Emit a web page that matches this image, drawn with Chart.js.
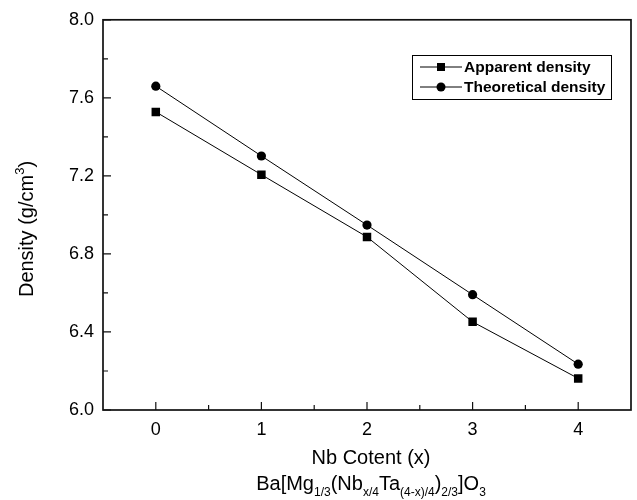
<!DOCTYPE html>
<html lang="en">
<head>
  <meta charset="utf-8">
  <title>Density vs Nb content</title>
  <script src="https://cdn.jsdelivr.net/npm/chart.js"></script>
  <style>
    html, body { margin: 0; padding: 0; background: #fff; }
    #wrap { width: 637px; height: 500px; }
  </style>
</head>
<body>
  <div id="wrap"><canvas id="densityChart"></canvas></div>
  <script>
    const nbContent = [0, 1, 2, 3, 4];
    const apparentDensity = [7.528, 7.206, 6.887, 6.452, 6.162];
    const theoreticalDensity = [7.660, 7.302, 6.948, 6.591, 6.235];
    const seriesLabels = ['Apparent density', 'Theoretical density'];
    const xMajor = [0, 1, 2, 3, 4];
    const xMinor = [0.5, 1.5, 2.5, 3.5];
    const yMajor = [6.0, 6.4, 6.8, 7.2, 7.6, 8.0];
    const yMinor = [6.2, 6.6, 7.0, 7.4, 7.8];

    const toPoints = (ys) => nbContent.map((x, i) => ({ x: x, y: ys[i] }));
    const FONT = 'Arial, "Liberation Sans", sans-serif';

    // frame, inward ticks, titles and legend
    const decor = {
      id: 'decor',
      afterDraw(chart) {
        const ctx = chart.ctx;
        const a = chart.chartArea;
        const xs = chart.scales.x, ys = chart.scales.y;
        ctx.save();
        ctx.strokeStyle = '#111';
        ctx.lineWidth = 1.7;
        ctx.strokeRect(a.left, a.top, a.right - a.left, a.bottom - a.top);

        ctx.lineWidth = 1.2;
        ctx.beginPath();
        yMajor.forEach(v => { const p = ys.getPixelForValue(v); ctx.moveTo(a.left, p); ctx.lineTo(a.left + 8, p); });
        yMinor.forEach(v => { const p = ys.getPixelForValue(v); ctx.moveTo(a.left, p); ctx.lineTo(a.left + 5, p); });
        xMajor.forEach(v => { const p = xs.getPixelForValue(v); ctx.moveTo(p, a.bottom); ctx.lineTo(p, a.bottom - 8); });
        xMinor.forEach(v => { const p = xs.getPixelForValue(v); ctx.moveTo(p, a.bottom); ctx.lineTo(p, a.bottom - 5); });
        ctx.stroke();

        // y title
        ctx.fillStyle = '#000';
        ctx.save();
        ctx.translate(33, 229);
        ctx.rotate(-Math.PI / 2);
        ctx.textBaseline = 'alphabetic';
        const t1 = 'Density (g/cm', t3 = ')';
        ctx.font = '13px ' + FONT;
        const wSup = ctx.measureText('3').width;
        ctx.font = '20px ' + FONT;
        const w1 = ctx.measureText(t1).width, w3 = ctx.measureText(t3).width;
        let sx = -(w1 + wSup + w3) / 2;
        ctx.fillText(t1, sx, 0); sx += w1;
        ctx.font = '13px ' + FONT;
        ctx.fillText('3', sx, -9); sx += wSup;
        ctx.font = '20px ' + FONT;
        ctx.fillText(t3, sx, 0);
        ctx.restore();

        // x title, two lines
        const cx = (a.left + a.right) / 2 + 4;
        ctx.textBaseline = 'alphabetic';
        ctx.textAlign = 'center';
        ctx.font = '20px ' + FONT;
        ctx.fillText('Nb Cotent (x)', cx, 464);
        ctx.textAlign = 'left';
        const parts = [['Ba[Mg', 0], ['1/3', 1], ['(Nb', 0], ['x/4', 1], ['Ta', 0], ['(4-x)/4', 1], [')', 0], ['2/3', 1], [']O', 0], ['3', 1]];
        const fMain = '20px ' + FONT, fSub = '12px ' + FONT;
        let total = 0;
        parts.forEach(p => { ctx.font = p[1] ? fSub : fMain; total += ctx.measureText(p[0]).width; });
        let px = cx - total / 2;
        parts.forEach(p => {
          ctx.font = p[1] ? fSub : fMain;
          ctx.fillText(p[0], px, p[1] ? 496 : 490);
          px += ctx.measureText(p[0]).width;
        });

        // legend
        ctx.lineWidth = 1;
        ctx.strokeStyle = '#000';
        ctx.strokeRect(412.5, 55.5, 199, 44);
        chart.data.datasets.forEach((ds, i) => {
          const ly = 67 + i * 20;
          ctx.beginPath();
          ctx.moveTo(420, ly); ctx.lineTo(462, ly);
          ctx.stroke();
          ctx.fillStyle = '#000';
          if (ds.pointStyle === 'rect') {
            ctx.fillRect(437, ly - 4, 8, 8);
          } else {
            ctx.beginPath(); ctx.arc(441, ly, 4.5, 0, Math.PI * 2); ctx.fill();
          }
          ctx.font = 'bold 15.5px ' + FONT;
          ctx.textBaseline = 'middle';
          ctx.fillText(ds.label, 464, ly + 1);
        });
        ctx.restore();
      }
    };

    new Chart(document.getElementById('densityChart'), {
      type: 'scatter',
      data: {
        datasets: [
          {
            label: seriesLabels[0], data: toPoints(apparentDensity), showLine: true,
            borderColor: '#000', borderWidth: 1, backgroundColor: '#000',
            pointStyle: 'rect', pointRadius: 6, pointHoverRadius: 6, pointBorderWidth: 0
          },
          {
            label: seriesLabels[1], data: toPoints(theoreticalDensity), showLine: true,
            borderColor: '#000', borderWidth: 1, backgroundColor: '#000',
            pointStyle: 'circle', pointRadius: 4.6, pointHoverRadius: 4.6, pointBorderWidth: 0
          }
        ]
      },
      options: {
        responsive: true,
        maintainAspectRatio: false,
        animation: false,
        layout: { padding: { top: 17, right: 2, left: 0, bottom: 0 } },
        plugins: { legend: { display: false }, tooltip: { enabled: false } },
        scales: {
          x: {
            type: 'linear', min: -0.5, max: 4.5,
            afterBuildTicks: (s) => { s.ticks = xMajor.map(v => ({ value: v })); },
            afterFit: (s) => { s.height = 90; },
            grid: { display: false, drawTicks: false },
            border: { display: false },
            ticks: { color: '#000', padding: 9, font: { family: FONT, size: 18 } }
          },
          y: {
            min: 6.0, max: 8.0,
            afterBuildTicks: (s) => { s.ticks = yMajor.map(v => ({ value: v })); },
            afterFit: (s) => { s.width = 103; },
            grid: { display: false, drawTicks: false },
            border: { display: false },
            ticks: {
              color: '#000', padding: 9,
              font: { family: FONT, size: 18 },
              callback: (v) => Number(v).toFixed(1)
            }
          }
        }
      },
      plugins: [decor]
    });
  </script>
</body>
</html>
